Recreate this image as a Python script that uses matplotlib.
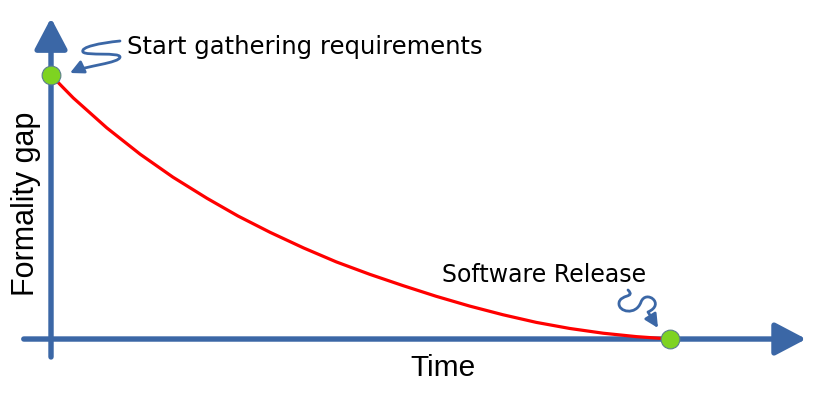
import matplotlib.pyplot as plt
import matplotlib.transforms as mtransforms
from matplotlib.path import Path
from matplotlib.patches import FancyArrowPatch

# curve: time (0 = start, 1 = release) vs formality gap
time = [0.0, 0.018, 0.036, 0.090, 0.144, 0.197, 0.252, 0.302, 0.354, 0.408,
        0.461, 0.515, 0.569, 0.622, 0.676, 0.730, 0.784, 0.838, 0.892,
        0.946, 1.0]
gap = [1.0, 0.956, 0.913, 0.800, 0.700, 0.613, 0.533, 0.466, 0.404, 0.345,
       0.292, 0.245, 0.202, 0.162, 0.125, 0.092, 0.063, 0.040, 0.022,
       0.009, 0.0]

milestone_time = [0.0, 1.0]
milestone_gap = [1.0, 0.0]
milestone_labels = ['Start gathering requirements', 'Software Release']

W, H = 839, 395
blue = '#3b67a6'

fig = plt.figure(figsize=(W / 100, H / 100), dpi=100)
ax = fig.add_axes([0, 0, 1, 1])
ax.set_xlim(-0.0824, 1.273)
ax.set_ylim(-0.212, 1.284)
ax.axis('off')

# pixel coords (origin top-left) for the decorations
pxt = mtransforms.Affine2D().scale(1 / W, -1 / H).translate(0, 1) + fig.transFigure

# axes arrows
axis_style = dict(arrowstyle='-|>,head_length=19,head_width=10',
                  color=blue, lw=3.9, mutation_scale=1,
                  shrinkA=0, shrinkB=0)
ax.annotate('', xy=(0, 1.216), xytext=(0, -0.068), arrowprops=axis_style)
ax.annotate('', xy=(1.22, 0), xytext=(-0.044, 0), arrowprops=axis_style)

ax.plot(time, gap, color='#ff0000', lw=2.3, zorder=3,
        solid_joinstyle='round')
ax.plot(milestone_time, milestone_gap, 'o', ms=13.5, color='#7ed321',
        mec='#5b7f8c', mew=0.8, zorder=4)

# axis titles
fig.text(443, 368, 'Time', transform=pxt, ha='center', va='center',
         fontsize=21.5, family='Liberation Sans')
fig.text(26, 204, 'Formality gap', transform=pxt, ha='center', va='center',
         rotation=90, fontsize=22, family='Liberation Sans')

# milestone labels
fig.text(127, 47, milestone_labels[0], transform=pxt, ha='left', va='center',
         fontsize=17.5)
fig.text(544, 275, milestone_labels[1], transform=pxt, ha='center',
         va='center', fontsize=17)

# squiggly pointer arrows
C4, MV, LN = Path.CURVE4, Path.MOVETO, Path.LINETO
sq1 = Path([(120, 41), (100, 43), (80, 47), (83, 52),
            (86, 56), (120, 52), (120, 57),
            (120, 63), (85, 66), (70, 73)],
           [MV, C4, C4, C4, C4, C4, C4, C4, C4, C4])
sq2 = Path([(628, 290), (636, 298), (620, 294), (619, 303),
            (618, 312), (636, 316), (641, 302),
            (646, 289), (666, 304), (648, 312),
            (658, 328)],
           [MV, C4, C4, C4, C4, C4, C4, C4, C4, C4, LN])
for p in (sq1, sq2):
    fig.patches.append(FancyArrowPatch(
        path=p, transform=pxt, arrowstyle='-|>,head_length=8,head_width=4',
        mutation_scale=1, color=blue, lw=2.0, figure=fig))

fig.savefig('out.png', dpi=100)
